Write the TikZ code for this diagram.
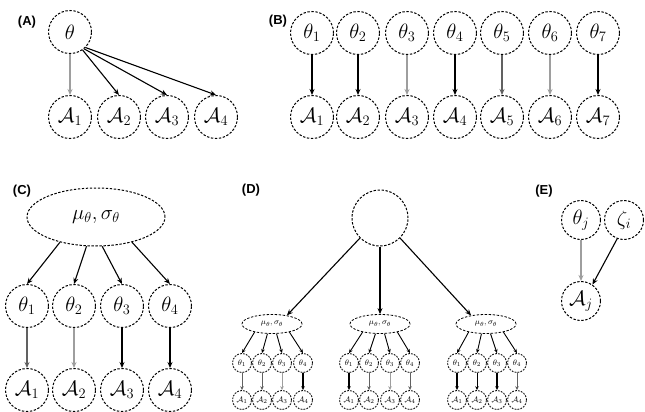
\documentclass[tikz,border=0pt]{standalone}
\usepackage{fontspec}
\setsansfont{Liberation Sans}
\usetikzlibrary{arrows.meta,shapes.geometric}
\definecolor{lgray}{gray}{0.62}
\definecolor{mgray}{gray}{0.38}
\begin{document}
\begin{tikzpicture}[x=1pt,y=-1pt,
  dsh/.style={draw, dash pattern=on 2.4pt off 1.6pt, line width=1pt},
  var/.style={dsh, circle, inner sep=0pt, minimum size=43pt,
    font=\fontsize{20}{20}\selectfont},
  evar/.style={var, minimum size=39pt},
  hyp/.style={dsh, ellipse, inner sep=0pt, minimum width=138pt, minimum height=58pt,
    font=\fontsize{21}{21}\selectfont},
  root/.style={dsh, circle, inner sep=0pt, minimum size=56pt},
  shyp/.style={dsh, ellipse, inner sep=0pt, minimum width=60pt, minimum height=19pt,
    line width=0.8pt, font=\fontsize{8}{8}\selectfont},
  svar/.style={dsh, circle, inner sep=0pt, minimum size=19pt, line width=0.8pt,
    dash pattern=on 1.8pt off 1.2pt, font=\fontsize{8}{8}\selectfont},
  lab/.style={font=\sffamily\bfseries\fontsize{13}{13}\selectfont, inner sep=0pt},
  arr/.style={-{Stealth[length=6pt,width=5pt]}, line width=1.1pt},
  sarr/.style={-{Stealth[length=4pt,width=3.5pt]}, line width=0.9pt},
  thk/.style={line width=1.6pt},
]
\useasboundingbox (0,0) rectangle (645,412);

% ---------- (A) one shared ability ----------
\node[lab] (labA) at (27,22) {(A)};
\node[var] (a0) at (70,32) {$\theta$};
\foreach \x [count=\i] in {70,119,167,216}
  \node[var] (a\i) at (\x,117) {$\mathcal{A}_{\i}$};
\draw[arr, lgray] (a0) -- (a1);
\draw[arr] (a0.-55) -- (a2.north);
\draw[arr] (a0.-50) -- (a3.north);
\draw[arr] (a0.-45) -- (a4.north);

% ---------- (B) independent abilities ----------
\node[lab] (labB) at (278,21) {(B)};
\foreach \x [count=\i] in {312,358,407,455,502,550,598} {
  \node[var] (bt\i) at (\x,33) {$\theta_{\i}$};
  \node[var] (ba\i) at (\x,117) {$\mathcal{A}_{\i}$};
}
\draw[arr] (bt1) -- (ba1);
\draw[arr, thk] (bt2) -- (ba2);
\draw[arr, lgray] (bt3) -- (ba3);
\draw[arr] (bt4) -- (ba4);
\draw[arr, mgray] (bt5) -- (ba5);
\draw[arr, lgray] (bt6) -- (ba6);
\draw[arr, thk] (bt7) -- (ba7);

% ---------- (C) hierarchical prior ----------
\node[lab] (labC) at (22,191) {(C)};
\node[hyp] (ch) at (96,217) {$\mu_{\theta},\sigma_{\theta}$};
\foreach \x [count=\i] in {27,74,122,170} {
  \node[var] (ct\i) at (\x,306) {$\theta_{\i}$};
  \node[var] (ca\i) at (\x,390) {$\mathcal{A}_{\i}$};
}
\draw[arr] (ch.215) -- (ct1.north);
\draw[arr] (ch.252) -- (ct2.north);
\draw[arr] (ch.282) -- (ct3.north);
\draw[arr] (ch.325) -- (ct4.north);
\draw[arr, mgray] (ct1) -- (ca1);
\draw[arr, lgray] (ct2) -- (ca2);
\draw[arr] (ct3) -- (ca3);
\draw[arr, thk] (ct4) -- (ca4);

% ---------- (D) nested hierarchy ----------
\node[lab] (labD) at (251,190) {(D)};
\node[root] (d0) at (380,218) {};
\node[shyp] (d1) at (272,324) {$\mu_{\theta},\sigma_{\theta}$};
\node[shyp] (d2) at (380,324) {$\mu_{\theta},\sigma_{\theta}$};
\node[shyp] (d3) at (486,324) {$\mu_{\theta},\sigma_{\theta}$};
\draw[arr] (d0.225) -- (d1.30);
\draw[arr] (d0) -- (d2);
\draw[arr] (d0.315) -- (d3.150);
\foreach \g/\xa/\xb/\xc/\xd in {1/242/262/282/303, 2/349/369/390/410, 3/457/477/497/517} {
  \foreach \x [count=\i] in {\xa,\xb,\xc,\xd} {
    \node[svar] (dt\g\i) at (\x,363) {$\theta_{\i}$};
    \node[svar] (da\g\i) at (\x,400) {$\mathcal{A}_{\i}$};
  }
  \draw[sarr] (d\g.205) -- (dt\g1.north);
  \draw[sarr] (d\g.245) -- (dt\g2.north);
  \draw[sarr] (d\g.295) -- (dt\g3.north);
  \draw[sarr] (d\g.335) -- (dt\g4.north);
}
\draw[sarr, mgray] (dt11) -- (da11);
\draw[sarr, mgray] (dt12) -- (da12);
\draw[sarr, lgray] (dt13) -- (da13);
\draw[sarr, line width=1.2pt] (dt14) -- (da14);
\draw[sarr, line width=1.2pt] (dt21) -- (da21);
\draw[sarr, mgray] (dt22) -- (da22);
\draw[sarr, lgray] (dt23) -- (da23);
\draw[sarr, mgray] (dt24) -- (da24);
\draw[sarr, line width=1.2pt] (dt31) -- (da31);
\draw[sarr] (dt32) -- (da32);
\draw[sarr, line width=1.2pt] (dt33) -- (da33);
\draw[sarr, mgray] (dt34) -- (da34);

% ---------- (E) ability and item difficulty ----------
\node[lab] (labE) at (544,191) {(E)};
\node[evar] (et) at (581,220) {$\theta_j$};
\node[evar] (ez) at (624,220) {$\zeta_i$};
\node[evar] (ea) at (581,301) {$\mathcal{A}_j$};
\draw[arr, lgray] (et) -- (ea);
\draw[arr] (ez.250) -- (ea.55);
\end{tikzpicture}
\end{document}
